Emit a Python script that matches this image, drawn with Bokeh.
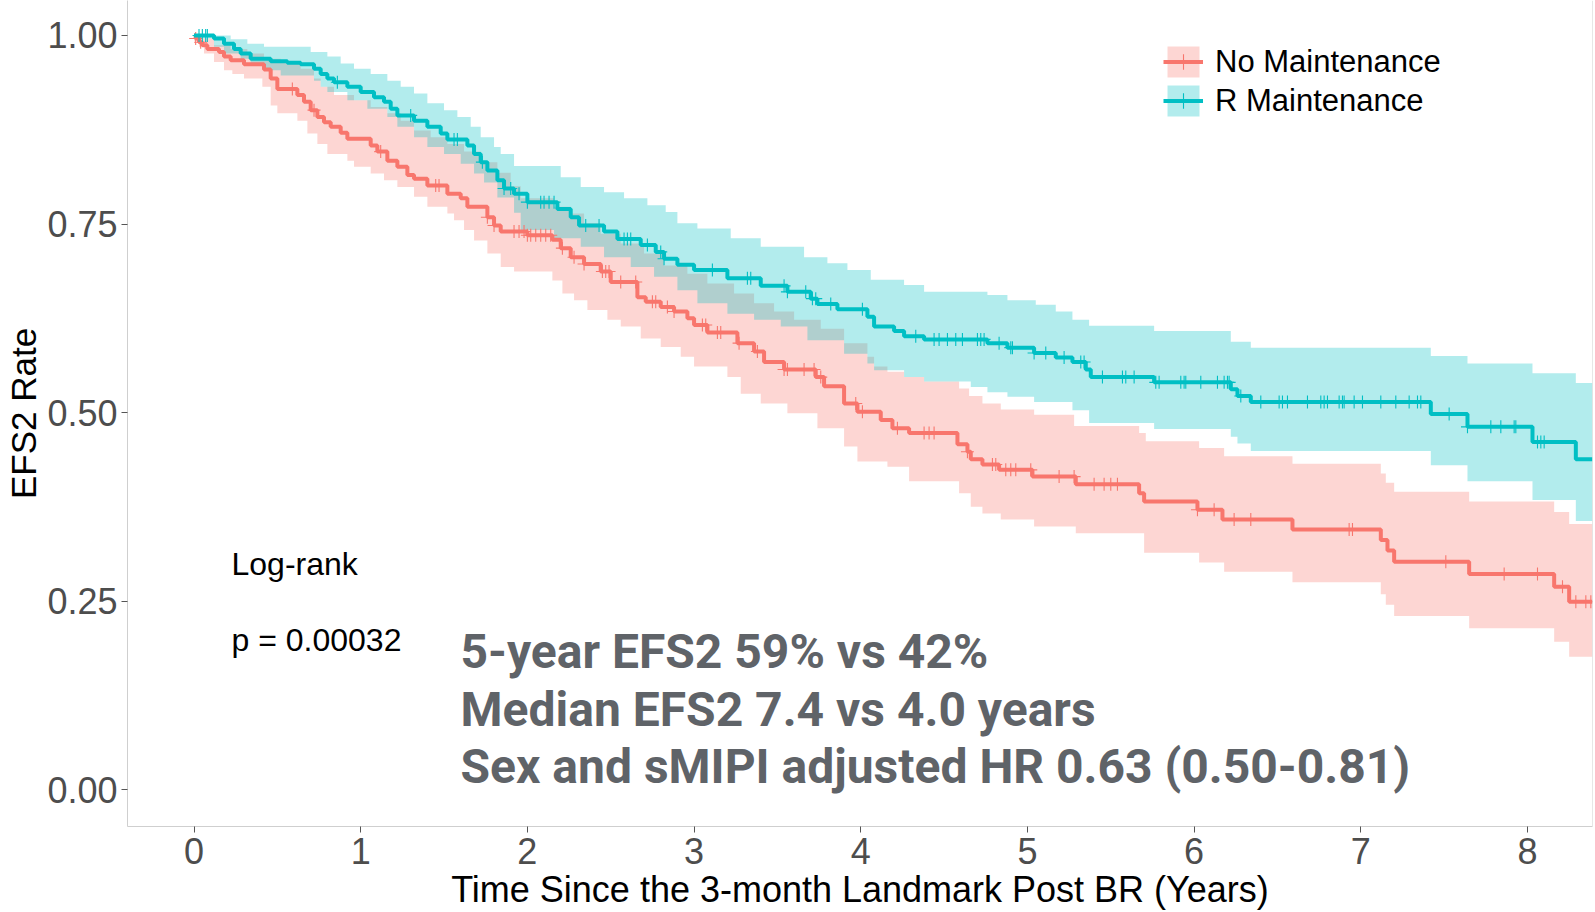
import numpy as np
from bokeh.plotting import figure
from bokeh.models import (Range1d, FixedTicker, NumeralTickFormatter, Legend, LegendItem,
                          Label, Span)
from bokeh.embed import file_html
from bokeh.resources import INLINE

# ---------------- data ----------------
group_names = ["No Maintenance", "R Maintenance"]
x_ticks = [0, 1, 2, 3, 4, 5, 6, 7, 8]
y_ticks = [0.0, 0.25, 0.5, 0.75, 1.0]
x_title = "Time Since the 3-month Landmark Post BR (Years)"
y_title = "EFS2 Rate"
end_time = 8.39

no_maint_time = [0.00, 0.01, 0.03, 0.05, 0.08, 0.15, 0.18, 0.22, 0.30, 0.42,
                 0.46, 0.50, 0.62, 0.66, 0.70, 0.74, 0.78, 0.82, 0.88, 0.92,
                 1.06, 1.10, 1.16, 1.22, 1.28, 1.32, 1.40, 1.52, 1.60, 1.64,
                 1.76, 1.80, 1.84, 2.00, 2.15, 2.20, 2.26, 2.34, 2.44, 2.50,
                 2.66, 2.71, 2.80, 2.88, 2.96, 3.00, 3.08, 3.26, 3.36, 3.42,
                 3.54, 3.73, 3.78, 3.90, 3.98, 4.12, 4.19, 4.29, 4.58, 4.64,
                 4.66, 4.73, 4.83, 5.03, 5.29, 5.67, 5.70, 6.02, 6.17, 6.59,
                 7.12, 7.16, 7.20, 7.65, 8.16, 8.25]
no_maint_surv = [1.000, 0.996, 0.991, 0.987, 0.982, 0.978, 0.972, 0.967, 0.962, 0.955,
                 0.943, 0.929, 0.921, 0.912, 0.901, 0.892, 0.885, 0.879, 0.871, 0.863,
                 0.854, 0.846, 0.834, 0.826, 0.815, 0.810, 0.801, 0.790, 0.784, 0.773,
                 0.759, 0.748, 0.740, 0.735, 0.729, 0.718, 0.706, 0.697, 0.687, 0.673,
                 0.653, 0.647, 0.640, 0.634, 0.625, 0.616, 0.606, 0.592, 0.581, 0.567,
                 0.557, 0.547, 0.535, 0.512, 0.501, 0.490, 0.479, 0.473, 0.458, 0.448,
                 0.438, 0.431, 0.424, 0.415, 0.405, 0.393, 0.382, 0.371, 0.358, 0.345,
                 0.331, 0.317, 0.302, 0.286, 0.269, 0.249]

no_maint_upper_time = [0.00, 0.04, 0.12, 0.22, 0.32, 0.42, 0.52, 0.64, 0.72, 0.76,
                       0.84, 0.96, 1.06, 1.16, 1.24, 1.32, 1.42, 1.52, 1.62, 1.72,
                       1.82, 1.90, 1.96, 2.16, 2.26, 2.34, 2.44, 2.56, 2.70, 2.82,
                       2.96, 3.08, 3.24, 3.36, 3.48, 3.60, 3.76, 3.90, 4.04, 4.08,
                       4.16, 4.26, 4.38, 4.59, 4.65, 4.73, 4.84, 5.04, 5.28, 5.67,
                       5.71, 6.03, 6.18, 6.59, 7.12, 7.15, 7.20, 7.65, 8.16, 8.25]
no_maint_upper = [1.000, 0.996, 0.987, 0.982, 0.976, 0.969, 0.965, 0.956, 0.943, 0.932,
                  0.921, 0.914, 0.905, 0.897, 0.887, 0.874, 0.865, 0.856, 0.846, 0.832,
                  0.818, 0.800, 0.784, 0.773, 0.764, 0.751, 0.737, 0.724, 0.711, 0.695,
                  0.684, 0.671, 0.658, 0.645, 0.634, 0.623, 0.611, 0.592, 0.574, 0.561,
                  0.554, 0.547, 0.541, 0.532, 0.522, 0.512, 0.504, 0.497, 0.482, 0.473,
                  0.462, 0.453, 0.442, 0.432, 0.419, 0.407, 0.395, 0.382, 0.368, 0.352]

no_maint_lower_time = [0.00, 0.03, 0.06, 0.12, 0.18, 0.23, 0.30, 0.41, 0.46, 0.50,
                       0.62, 0.68, 0.74, 0.80, 0.92, 0.96, 1.06, 1.14, 1.22, 1.32,
                       1.40, 1.52, 1.56, 1.62, 1.68, 1.76, 1.84, 1.92, 2.15, 2.21,
                       2.28, 2.36, 2.48, 2.56, 2.68, 2.80, 2.92, 3.00, 3.20, 3.28,
                       3.40, 3.56, 3.74, 3.90, 3.98, 4.16, 4.29, 4.59, 4.66, 4.73,
                       4.84, 5.04, 5.29, 5.70, 6.03, 6.18, 6.59, 7.12, 7.15, 7.20,
                       7.65, 8.16, 8.25]
no_maint_lower = [0.993, 0.985, 0.976, 0.965, 0.954, 0.949, 0.943, 0.932, 0.907, 0.897,
                  0.887, 0.870, 0.856, 0.843, 0.834, 0.826, 0.817, 0.808, 0.799, 0.786,
                  0.773, 0.764, 0.755, 0.742, 0.728, 0.711, 0.693, 0.687, 0.675, 0.658,
                  0.649, 0.636, 0.623, 0.614, 0.598, 0.587, 0.574, 0.561, 0.547, 0.525,
                  0.512, 0.499, 0.479, 0.455, 0.435, 0.428, 0.409, 0.393, 0.375, 0.366,
                  0.358, 0.349, 0.340, 0.314, 0.301, 0.289, 0.275, 0.259, 0.245, 0.230,
                  0.214, 0.196, 0.176]

no_maint_censor = [0.01, 0.04, 0.59, 0.72, 1.12, 1.45, 1.47, 1.76, 1.80, 1.92,
                   1.95, 1.98, 2.00, 2.02, 2.05, 2.08, 2.11, 2.14, 2.21, 2.28,
                   2.34, 2.45, 2.47, 2.49, 2.56, 2.65, 2.75, 2.77, 2.84, 2.88,
                   3.05, 3.07, 3.14, 3.16, 3.27, 3.38, 3.54, 3.56, 3.66, 3.72,
                   3.76, 3.97, 4.01, 4.22, 4.38, 4.41, 4.44, 4.64, 4.79, 4.81,
                   4.87, 4.90, 4.93, 5.02, 5.19, 5.28, 5.40, 5.46, 5.50, 5.54,
                   6.02, 6.12, 6.24, 6.34, 6.93, 6.95, 7.51, 7.86, 8.06, 8.21,
                   8.29, 8.35, 8.38]

r_maint_time = [0.00, 0.12, 0.18, 0.24, 0.28, 0.34, 0.46, 0.56, 0.64, 0.72,
                0.76, 0.80, 0.84, 0.92, 1.00, 1.08, 1.14, 1.18, 1.22, 1.32,
                1.40, 1.48, 1.52, 1.64, 1.68, 1.72, 1.76, 1.82, 1.86, 1.92,
                2.00, 2.18, 2.26, 2.31, 2.46, 2.54, 2.68, 2.77, 2.82, 2.90,
                3.00, 3.20, 3.40, 3.56, 3.70, 3.74, 3.86, 4.04, 4.08, 4.20,
                4.26, 4.38, 4.76, 4.88, 5.04, 5.17, 5.27, 5.35, 5.38, 5.76,
                6.22, 6.26, 6.34, 7.42, 7.64, 8.03, 8.29]
r_maint_surv = [1.000, 0.996, 0.989, 0.982, 0.976, 0.969, 0.966, 0.964, 0.962, 0.956,
                0.949, 0.943, 0.938, 0.932, 0.925, 0.918, 0.912, 0.903, 0.894, 0.887,
                0.879, 0.870, 0.862, 0.854, 0.843, 0.832, 0.821, 0.808, 0.797, 0.790,
                0.779, 0.770, 0.759, 0.748, 0.740, 0.730, 0.722, 0.713, 0.704, 0.696,
                0.689, 0.678, 0.668, 0.660, 0.651, 0.644, 0.637, 0.627, 0.614, 0.608,
                0.601, 0.597, 0.592, 0.586, 0.579, 0.573, 0.567, 0.557, 0.547, 0.540,
                0.531, 0.522, 0.514, 0.498, 0.481, 0.461, 0.438]

r_maint_upper_time = [0.00, 0.22, 0.32, 0.42, 0.70, 0.80, 0.88, 0.96, 1.06, 1.16,
                      1.24, 1.32, 1.40, 1.50, 1.58, 1.66, 1.72, 1.80, 1.84, 1.92,
                      2.20, 2.32, 2.46, 2.58, 2.72, 2.83, 2.90, 3.02, 3.22, 3.40,
                      3.66, 3.80, 3.92, 4.06, 4.26, 4.38, 4.76, 4.88, 5.05, 5.17,
                      5.27, 5.37, 5.76, 6.22, 6.34, 7.42, 7.64, 8.03, 8.29]
r_maint_upper = [1.000, 0.995, 0.989, 0.985, 0.978, 0.972, 0.963, 0.956, 0.949, 0.940,
                 0.932, 0.923, 0.910, 0.901, 0.892, 0.879, 0.865, 0.852, 0.843, 0.827,
                 0.812, 0.799, 0.792, 0.784, 0.775, 0.766, 0.751, 0.744, 0.731, 0.720,
                 0.706, 0.698, 0.689, 0.676, 0.669, 0.660, 0.656, 0.649, 0.643, 0.634,
                 0.623, 0.615, 0.608, 0.594, 0.586, 0.575, 0.565, 0.552, 0.539]

r_maint_lower_time = [0.00, 0.12, 0.18, 0.28, 0.34, 0.42, 0.52, 0.72, 0.76, 0.80,
                      0.92, 1.04, 1.16, 1.22, 1.32, 1.40, 1.50, 1.60, 1.68, 1.74,
                      1.82, 1.92, 1.96, 2.16, 2.32, 2.46, 2.62, 2.76, 2.90, 3.02,
                      3.20, 3.36, 3.52, 3.68, 3.90, 4.04, 4.08, 4.26, 4.38, 4.66,
                      4.76, 4.88, 5.04, 5.27, 5.37, 5.76, 6.22, 6.26, 6.34, 7.42,
                      7.64, 8.03, 8.29]
r_maint_lower = [0.996, 0.985, 0.976, 0.969, 0.960, 0.954, 0.947, 0.940, 0.932, 0.925,
                 0.914, 0.903, 0.892, 0.879, 0.865, 0.852, 0.843, 0.830, 0.817, 0.805,
                 0.785, 0.765, 0.742, 0.731, 0.720, 0.706, 0.693, 0.680, 0.662, 0.645,
                 0.631, 0.623, 0.614, 0.596, 0.578, 0.565, 0.556, 0.547, 0.541, 0.534,
                 0.527, 0.521, 0.514, 0.503, 0.486, 0.478, 0.468, 0.459, 0.449, 0.430,
                 0.409, 0.384, 0.356]

r_maint_censor = [0.03, 0.05, 0.07, 0.08, 0.86, 1.30, 1.56, 1.58, 1.73, 1.86,
                  1.90, 1.95, 2.00, 2.08, 2.10, 2.13, 2.16, 2.35, 2.43, 2.58,
                  2.60, 2.62, 2.72, 2.80, 2.82, 3.11, 3.32, 3.34, 3.54, 3.56,
                  3.67, 3.71, 3.73, 3.82, 4.01, 4.33, 4.44, 4.47, 4.52, 4.57,
                  4.61, 4.70, 4.72, 4.74, 4.83, 4.90, 4.91, 5.04, 5.11, 5.22,
                  5.32, 5.34, 5.45, 5.57, 5.59, 5.64, 5.77, 5.79, 5.92, 5.94,
                  5.95, 6.04, 6.14, 6.18, 6.20, 6.21, 6.28, 6.40, 6.51, 6.53,
                  6.56, 6.68, 6.76, 6.78, 6.80, 6.87, 6.89, 6.90, 6.96, 7.01,
                  7.12, 7.21, 7.29, 7.34, 7.36, 7.53, 7.64, 7.78, 7.84, 7.92,
                  7.93, 8.06, 8.08, 8.10]

annot_left = ["Log-rank", "p = 0.00032"]
annot_stats = ["5-year EFS2 59% vs 42%",
               "Median EFS2 7.4 vs 4.0 years",
               "Sex and sMIPI adjusted HR 0.63 (0.50-0.81)"]

RED = "#F8766D"
TEAL = "#00BFC4"


def step_path(times, vals, t_end):
    xs, ys = [], []
    for i in range(len(times)):
        t_next = times[i + 1] if i + 1 < len(times) else t_end
        xs += [times[i], t_next]
        ys += [vals[i], vals[i]]
    return xs, ys


def step_value(times, vals, t):
    idx = np.searchsorted(np.asarray(times), np.asarray(t), side="right") - 1
    return list(np.asarray(vals)[np.clip(idx, 0, len(vals) - 1)])


x_lo, y_lo, y_hi = -0.399, -0.049, 1.0464
p = figure(width=1595, height=912, output_backend="svg", toolbar_location=None,
           x_range=Range1d(x_lo, end_time), y_range=Range1d(y_lo, y_hi),
           min_border_left=127, min_border_right=3, min_border_top=0,
           min_border_bottom=85, background_fill_color="white",
           border_fill_color="white", outline_line_color=None)
p.xgrid.visible = False
p.ygrid.visible = False

groups = [
    (RED, no_maint_time, no_maint_surv, no_maint_upper_time, no_maint_upper,
     no_maint_lower_time, no_maint_lower, no_maint_censor),
    (TEAL, r_maint_time, r_maint_surv, r_maint_upper_time, r_maint_upper,
     r_maint_lower_time, r_maint_lower, r_maint_censor),
]

bands, lines, marks = [], [], []
for col, t, s, ut, uv, lt, lv, cens in groups:
    ux, uy = step_path(ut, uv, end_time)
    lx, ly = step_path(lt, lv, end_time)
    bands.append(p.patch(ux + lx[::-1], uy + ly[::-1], fill_color=col,
                         fill_alpha=0.3, line_color=None))
for col, t, s, ut, uv, lt, lv, cens in groups:
    sx, sy = step_path(t, s, end_time)
    lines.append(p.line(sx, sy, line_color=col, line_width=4))
    marks.append(p.scatter(cens, step_value(t, s, cens), marker="cross", size=13,
                           line_color=col, line_width=1.1))

# axes
for ax in (p.xaxis[0], p.yaxis[0]):
    ax.axis_line_color = "#CFCFCF"
    ax.major_tick_line_color = "#555555"
    ax.major_tick_out = 6
    ax.major_tick_in = 0
    ax.minor_tick_line_color = None
    ax.major_label_text_color = "#4D4D4D"
    ax.major_label_text_font = "Liberation Sans"
    ax.major_label_text_font_size = "36px"
    ax.axis_label_text_font = "Liberation Sans"
    ax.axis_label_text_font_style = "normal"
    ax.axis_label_text_color = "black"

p.xaxis.ticker = FixedTicker(ticks=x_ticks)
p.xaxis.formatter = NumeralTickFormatter(format="0")
p.xaxis.major_label_standoff = 5
p.xaxis.axis_label = x_title
p.xaxis.axis_label_text_font_size = "36px"
p.xaxis.axis_label_standoff = 2

p.yaxis.ticker = FixedTicker(ticks=y_ticks)
p.yaxis.formatter = NumeralTickFormatter(format="0.00")
p.yaxis.major_label_standoff = 4
p.yaxis.axis_label = y_title
p.yaxis.axis_label_text_font_size = "35px"
p.yaxis.axis_label_standoff = 1

p.add_layout(Span(location=end_time, dimension="height", line_color="#CFCFCF",
                  line_width=1))

# annotations
for txt, yv in zip(annot_left, [0.2996, 0.1978]):
    p.add_layout(Label(x=0.225, y=yv, text=txt, text_font="Liberation Sans",
                       text_font_size="32px", text_color="black",
                       text_baseline="alphabetic"))
for txt, yv in zip(annot_stats, [0.1826, 0.1058, 0.0303]):
    p.add_layout(Label(x=1.599, y=yv, text=txt, text_font="Roboto",
                       text_font_style="bold", text_font_size="48px",
                       text_color="#5F6368", text_baseline="alphabetic"))

legend = Legend(items=[LegendItem(label=group_names[i],
                                  renderers=[bands[i], lines[i], marks[i]])
                       for i in range(2)],
                location=(1036, 706), orientation="vertical",
                glyph_width=40, glyph_height=39, spacing=0, padding=0, margin=0,
                label_standoff=12, label_text_font="Liberation Sans",
                label_text_font_size="31px", label_text_color="black",
                border_line_color=None, background_fill_alpha=0)
p.add_layout(legend)

open("out.html", "w").write(file_html(p, INLINE))
